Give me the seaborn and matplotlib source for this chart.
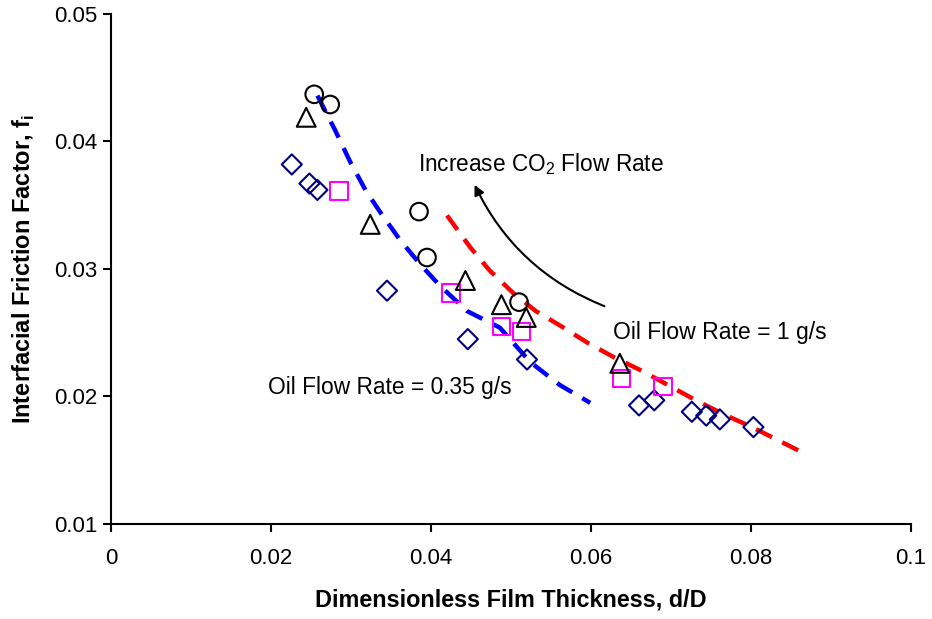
import matplotlib
matplotlib.use("Agg")
import matplotlib.pyplot as plt
import seaborn as sns
import pandas as pd

# ---- data ----
circle_x = [0.0254, 0.0274, 0.0385, 0.0395, 0.0510]
circle_y = [0.0437, 0.0429, 0.0345, 0.0309, 0.0274]

tri_x = [0.0244, 0.0324, 0.0443, 0.0488, 0.0519, 0.0636]
tri_y = [0.0419, 0.0335, 0.0291, 0.0272, 0.0262, 0.0226]

sq_x = [0.0285, 0.0425, 0.0488, 0.0513, 0.0638, 0.0690]
sq_y = [0.0361, 0.0281, 0.0255, 0.0251, 0.0214, 0.0208]

dia_x = [0.0226, 0.0248, 0.0258, 0.0345, 0.0446, 0.0520,
         0.0660, 0.0679, 0.0726, 0.0744, 0.0761, 0.0803]
dia_y = [0.0382, 0.0367, 0.0362, 0.0283, 0.0245, 0.0229,
         0.0193, 0.0197, 0.0188, 0.0185, 0.0182, 0.0176]

blue_x = [0.0258, 0.0280, 0.0299, 0.0318, 0.0336, 0.0361, 0.0386,
          0.0411, 0.0445, 0.0486, 0.0524, 0.0561, 0.0599]
blue_y = [0.0436, 0.0409, 0.0384, 0.0362, 0.0345, 0.0323, 0.0304,
          0.0287, 0.0267, 0.0254, 0.0227, 0.0209, 0.0195]

red_x = [0.0420, 0.0449, 0.0473, 0.0503, 0.0531, 0.0563, 0.0596, 0.0628,
         0.0664, 0.0699, 0.0731, 0.0766, 0.0801, 0.0836, 0.0871]
red_y = [0.0342, 0.0317, 0.0299, 0.0281, 0.0267, 0.0255, 0.0242, 0.0231,
         0.0220, 0.0208, 0.0197, 0.0186, 0.0176, 0.0165, 0.0154]

x_ticks = [0, 0.02, 0.04, 0.06, 0.08, 0.1]
x_tick_labels = ["0", "0.02", "0.04", "0.06", "0.08", "0.1"]
y_ticks = [0.01, 0.02, 0.03, 0.04, 0.05]
y_tick_labels = ["0.01", "0.02", "0.03", "0.04", "0.05"]

# ---- style ----
sns.set_style("ticks")
plt.rcParams['font.family'] = ['Liberation Sans', 'DejaVu Sans']
plt.rcParams['mathtext.fontset'] = 'custom'
plt.rcParams['mathtext.rm'] = 'Liberation Sans'
plt.rcParams['mathtext.bf'] = 'Liberation Sans:bold'
plt.rcParams['text.color'] = 'black'
plt.rcParams['axes.labelcolor'] = 'black'

fig = plt.figure(figsize=(9.32, 6.19), dpi=100)
ax = fig.add_axes([0.1191, 0.1535, 0.8584, 0.8239])

blue_df = pd.DataFrame({"x": blue_x, "y": blue_y})
red_df = pd.DataFrame({"x": red_x, "y": red_y})
sns.lineplot(data=blue_df, x="x", y="y", sort=False, ax=ax, color="#0000FF",
             lw=3.2, dashes=False, zorder=2)
sns.lineplot(data=red_df, x="x", y="y", sort=False, ax=ax, color="#FF0000",
             lw=3.2, dashes=False, zorder=2)
for ln in ax.lines:
    ln.set_linestyle((0, (4, 2.6)))

def scatter(xs, ys, marker, color, size):
    df = pd.DataFrame({"x": xs, "y": ys})
    sns.scatterplot(data=df, x="x", y="y", ax=ax, marker=marker, s=size,
                    facecolors="none", edgecolor=color, linewidth=1.5, zorder=3)

scatter(dia_x, dia_y, "D", "#000080", 105)
scatter(sq_x, sq_y, "s", "#FF00FF", 160)
scatter(tri_x, tri_y, "^", "black", 185)
scatter(circle_x, circle_y, "o", "black", 160)

ax.set_xlim(0, 0.1)
ax.set_ylim(0.01, 0.05)
ax.set_xticks(x_ticks)
ax.set_xticklabels(x_tick_labels)
ax.set_yticks(y_ticks)
ax.set_yticklabels(y_tick_labels)
ax.tick_params(axis="both", direction="out", length=6, width=1.5,
               labelsize=16, colors="black")
ax.tick_params(axis="x", pad=11)
ax.tick_params(axis="y", pad=4)
for s in ["top", "right"]:
    ax.spines[s].set_visible(False)
for s in ["left", "bottom"]:
    ax.spines[s].set_linewidth(1.5)
    ax.spines[s].set_color("black")

ax.set_xlabel("Dimensionless Film Thickness, d/D", fontsize=16.8,
              fontweight="bold", labelpad=14, color="black")
ax.set_ylabel(r"Interfacial Friction Factor, f$_\mathbf{i}$", fontsize=17,
              fontweight="bold", labelpad=12, color="black")

ax.text(0.0384, 0.0382, r"Increase CO$_\mathregular{2}$ Flow Rate", fontsize=16.3,
        va="center", ha="left", color="black")
ax.text(0.0627, 0.0250, "Oil Flow Rate = 1 g/s", fontsize=16.6, va="center",
        ha="left", color="black")
ax.text(0.0196, 0.0207, "Oil Flow Rate = 0.35 g/s", fontsize=16.4, va="center",
        ha="left", color="black")

ax.annotate("", xy=(0.0453, 0.0368), xytext=(0.0620, 0.0270),
            arrowprops=dict(arrowstyle="-|>", color="black", lw=1.5,
                            connectionstyle="arc3,rad=-0.2",
                            mutation_scale=15))

fig.savefig("out.png", dpi=100)
